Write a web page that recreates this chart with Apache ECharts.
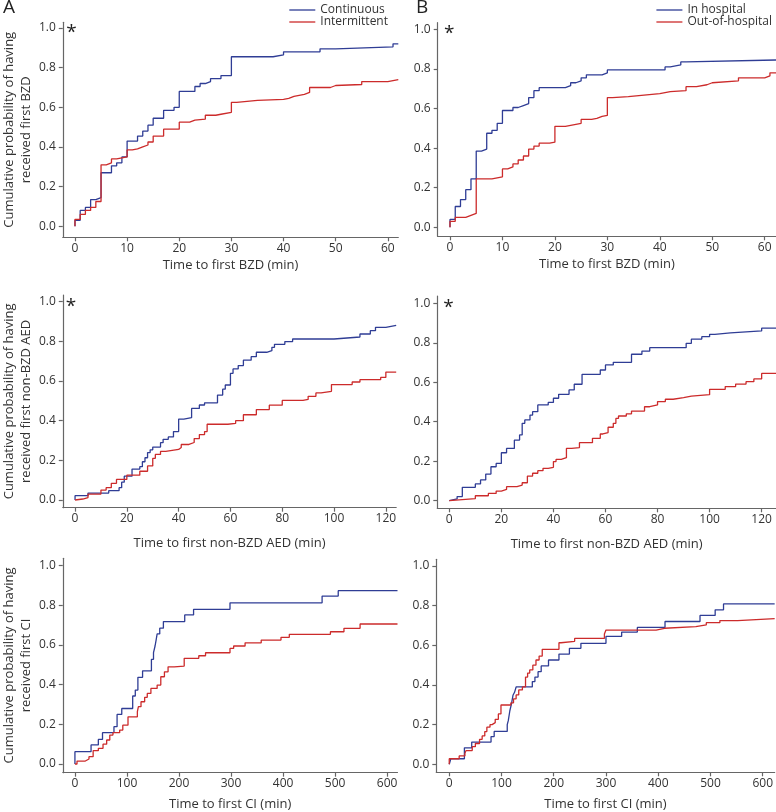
<!DOCTYPE html>
<html>
<head>
<meta charset="utf-8">
<script src="https://cdn.jsdelivr.net/npm/echarts@6/dist/echarts.min.js"></script>
<style>
html,body{margin:0;padding:0;background:#fff;}
#chart{width:776px;height:812px;}
</style>
</head>
<body>
<div id="chart"></div>
<script>
// ---------- DATA ----------
const legendA = ['Continuous', 'Intermittent'];
const legendB = ['In hospital', 'Out-of-hospital'];
const xTitles = ['Time to first BZD (min)', 'Time to first non-BZD AED (min)', 'Time to first CI (min)'];
const yTitles = ['Cumulative probability of having\nreceived first BZD',
                 'Cumulative probability of having\nreceived first non-BZD AED',
                 'Cumulative probability of having\nreceived first CI'];
const xTicksRow1 = [0, 10, 20, 30, 40, 50, 60];
const xTicksRow2 = [0, 20, 40, 60, 80, 100, 120];
const xTicksRow3 = [0, 100, 200, 300, 400, 500, 600];
const yTicks = [0, 0.2, 0.4, 0.6, 0.8, 1.0];

// Panel A, row 1 (BZD)
const a1ContT = [0,0,1,2,3,4,5,7,8,9,10,12,13,14,15,17,19,20,23,24,25,26,28,30,38,40,47,50,61];
const a1ContP = [0,0.03,0.08,0.095,0.135,0.145,0.27,0.305,0.32,0.35,0.43,0.455,0.48,0.51,0.545,0.585,0.60,0.68,0.705,0.72,0.73,0.745,0.76,0.855,0.865,0.88,0.895,0.905,0.92];
const a1IntT = [0,0,1,2,3,4,5,6,7,8,10,11,12,13,14,15,17,20,22,23,25,27,28,30,31,35,40,41,42,44,45,49,50,55,60];
const a1IntP = [0,0.035,0.06,0.08,0.095,0.125,0.31,0.32,0.34,0.35,0.385,0.39,0.40,0.41,0.425,0.455,0.49,0.525,0.535,0.54,0.56,0.565,0.575,0.625,0.635,0.64,0.645,0.655,0.665,0.675,0.70,0.71,0.715,0.73,0.74];
// Panel B, row 1 (BZD)
const b1InT = [0,0,1,2,3,4,5,6,7,8,9,10,12,13,14,15,16,17,22,23,24,25,26,29,30,41,42,44,45];
const b1InP = [0,0.04,0.105,0.14,0.19,0.245,0.385,0.395,0.475,0.49,0.525,0.59,0.605,0.615,0.625,0.655,0.69,0.705,0.715,0.73,0.74,0.755,0.77,0.78,0.795,0.81,0.82,0.835,0.845];
const b1OutT = [0,0,1,3,4,5,8,10,11,12,13,14,15,16,17,19,20,22,23,25,27,28,29,30,31,34,36,38,40,42,45,47,49,50,55,60,61];
const b1OutP = [0,0.03,0.05,0.06,0.07,0.245,0.255,0.295,0.305,0.32,0.34,0.36,0.395,0.41,0.425,0.43,0.51,0.515,0.525,0.545,0.55,0.56,0.565,0.655,0.66,0.665,0.67,0.675,0.685,0.69,0.71,0.72,0.73,0.74,0.755,0.765,0.78];
// Panel A, row 2 (non-BZD AED)
const a2ContT = [0,0,5,13,17,18,19,22,25,26,27,28,29,30,33,34,36,38,40,42,45,48,50,55,57,58,60,61,63,65,68,70,74,76,77,81,84,100,110,114,116,120];
const a2ContP = [0,0.022,0.035,0.047,0.062,0.09,0.12,0.156,0.168,0.193,0.213,0.239,0.253,0.267,0.289,0.306,0.318,0.345,0.408,0.415,0.462,0.479,0.49,0.529,0.559,0.58,0.639,0.661,0.678,0.705,0.723,0.745,0.753,0.77,0.785,0.799,0.812,0.822,0.837,0.854,0.871,0.881];
const a2IntT = [0,0,3,5,10,12,14,16,20,25,28,30,31,33,35,40,41,44,46,48,50,51,59,62,65,70,75,80,88,90,93,95,99,107,110,118,120];
const a2IntP = [0,0.005,0.012,0.03,0.05,0.062,0.084,0.104,0.125,0.145,0.172,0.21,0.23,0.245,0.255,0.265,0.28,0.29,0.31,0.33,0.345,0.382,0.386,0.4,0.43,0.456,0.478,0.502,0.507,0.523,0.54,0.548,0.582,0.595,0.607,0.618,0.645];
// Panel B, row 2 (non-BZD AED)
const b2InT = [0,0,3,5,10,12,14,16,18,20,22,25,27,28,29,31,32,34,38,40,42,46,48,51,58,60,63,70,74,77,91,93,97,100,102,108,120];
const b2InP = [0,0.009,0.021,0.068,0.085,0.105,0.135,0.172,0.189,0.243,0.265,0.307,0.333,0.392,0.409,0.434,0.451,0.485,0.498,0.519,0.539,0.561,0.59,0.64,0.662,0.688,0.701,0.742,0.758,0.775,0.797,0.819,0.831,0.843,0.85,0.86,0.874];
const b2OutT = [0,0,10,15,18,20,22,26,28,30,32,34,36,38,40,41,43,45,47,50,55,58,59,61,63,64,65,68,70,75,77,80,83,86,90,93,100,106,110,114,117,120];
const b2OutP = [0,0.01,0.025,0.037,0.049,0.057,0.071,0.079,0.091,0.125,0.139,0.152,0.164,0.169,0.198,0.209,0.218,0.265,0.269,0.294,0.316,0.338,0.345,0.372,0.392,0.417,0.429,0.44,0.454,0.476,0.485,0.502,0.514,0.522,0.53,0.537,0.564,0.578,0.591,0.603,0.617,0.645];
// Panel A, row 3 (CI)
const a3ContT = [0,0,31,45,53,75,81,90,111,116,121,130,147,151,154,156,158,163,170,211,228,298,475,506];
const a3ContP = [0,0.062,0.096,0.124,0.158,0.188,0.25,0.28,0.343,0.373,0.437,0.47,0.528,0.562,0.595,0.625,0.656,0.685,0.718,0.752,0.78,0.813,0.847,0.874];
const a3IntT = [0,4,20,27,35,45,54,61,67,73,86,92,102,120,122,127,134,139,146,158,165,172,179,191,210,238,251,298,305,327,358,396,412,491,517,548];
const a3IntP = [0,0.015,0.025,0.037,0.067,0.079,0.1,0.121,0.146,0.158,0.171,0.196,0.238,0.264,0.289,0.314,0.336,0.356,0.381,0.398,0.44,0.465,0.49,0.494,0.533,0.546,0.561,0.583,0.595,0.611,0.625,0.639,0.654,0.667,0.684,0.706];
// Panel B, row 3 (CI)
const b3InT = [0,3,29,43,80,86,111,113,116,119,122,125,128,159,164,170,176,190,210,230,252,300,330,360,413,480,509,525];
const b3InP = [0,0.028,0.083,0.112,0.14,0.166,0.2,0.22,0.27,0.304,0.348,0.363,0.39,0.417,0.44,0.467,0.496,0.526,0.556,0.585,0.61,0.645,0.667,0.69,0.72,0.751,0.779,0.809];
const b3OutT = [0,0,19,30,32,44,50,58,63,68,72,78,82,88,94,99,118,123,128,133,140,146,150,154,160,166,172,178,210,214,240,297,300,396,412,472,492,518,552];
const b3OutP = [0,0.028,0.042,0.055,0.069,0.089,0.105,0.126,0.143,0.165,0.187,0.2,0.21,0.227,0.254,0.299,0.31,0.33,0.35,0.375,0.39,0.44,0.46,0.476,0.5,0.526,0.546,0.58,0.613,0.62,0.635,0.657,0.677,0.686,0.694,0.703,0.714,0.725,0.735];

// ---------- LAYOUT (pixels) ----------
const BLUE = '#2f3d95', RED = '#cc2b2b', AXIS = '#666', TXT = '#333';
const FONT = '"Open Sans", "Noto Sans", sans-serif';
const panels = [
  {axX:60,   zeroX:72.3,  unit:5.257,  endX:398.3, y1:28,    y0:226.3, top:22.3,  bottom:237.3, ticks:xTicksRow1, row:0, side:'A', star:true,
   s:[[legendA[0], a1ContT, a1ContP, BLUE],[legendA[1], a1IntT, a1IntP, RED]]},
  {axX:437.7,zeroX:450,   unit:5.245,  endX:776,   y1:29.3,  y0:227.3, top:22.7,  bottom:236.3, ticks:xTicksRow1, row:0, side:'B', star:true,
   s:[[legendB[0], b1InT, b1InP, BLUE],[legendB[1], b1OutT, b1OutP, RED]]},
  {axX:59.3, zeroX:71.7,  unit:2.617,  endX:396.2, y1:301.7, y0:500,   top:295,   bottom:507.7, ticks:xTicksRow2, row:1, side:'A', star:true,
   s:[[legendA[0], a2ContT, a2ContP, BLUE],[legendA[1], a2IntT, a2IntP, RED]]},
  {axX:437.3,zeroX:449.3, unit:2.603,  endX:776,   y1:303.3, y0:500.7, top:296,   bottom:508.3, ticks:xTicksRow2, row:1, side:'B', star:true,
   s:[[legendB[0], b2InT, b2InP, BLUE],[legendB[1], b2OutT, b2OutP, RED]]},
  {axX:58.7, zeroX:71,    unit:0.5267, endX:397.5, y1:565.7, y0:764,   top:558.3, bottom:772.7, ticks:xTicksRow3, row:2, side:'A', star:false,
   s:[[legendA[0], a3ContT, a3ContP, BLUE],[legendA[1], a3IntT, a3IntP, RED]]},
  {axX:436.3,zeroX:449.3, unit:0.5245, endX:776,   y1:566,   y0:764.3, top:559.3, bottom:772.3, ticks:xTicksRow3, row:2, side:'B', star:false,
   s:[[legendB[0], b3InT, b3InP, BLUE],[legendB[1], b3OutT, b3OutP, RED]]}
];
const xNameGap = [21, 29, 25];

const grids = [], xAxes = [], yAxes = [], series = [], graphics = [];
panels.forEach((p, i) => {
  const pxPerY = p.y0 - p.y1;
  const xMin = -(p.zeroX - p.axX) / p.unit, xMax = (p.endX - p.zeroX) / p.unit;
  const yMin = -(p.bottom - p.y0) / pxPerY, yMax = (p.y0 - p.top) / pxPerY;
  grids.push({left: p.axX, top: p.top, width: p.endX - p.axX, height: p.bottom - p.top, containLabel: false});
  xAxes.push({
    type: 'value', gridIndex: i, min: xMin, max: xMax,
    axisLine: {show: true, onZero: false, lineStyle: {color: AXIS, width: 1.2}},
    axisTick: {show: true, length: 4, inside: false, customValues: p.ticks, lineStyle: {color: AXIS, width: 1.2}},
    axisLabel: {show: true, customValues: p.ticks, margin: 5, color: TXT, fontSize: 12, fontFamily: FONT},
    splitLine: {show: false},
    name: xTitles[p.row], nameLocation: 'middle', nameGap: xNameGap[p.row],
    nameTextStyle: {color: TXT, fontSize: 13, fontFamily: FONT}
  });
  const ya = {
    type: 'value', gridIndex: i, min: yMin, max: yMax,
    axisLine: {show: true, onZero: false, lineStyle: {color: AXIS, width: 1.2}},
    axisTick: {show: true, length: 4, customValues: yTicks, lineStyle: {color: AXIS, width: 1.2}},
    axisLabel: {show: true, customValues: yTicks, margin: 7, color: TXT, fontSize: 12, fontFamily: FONT,
                formatter: v => v.toFixed(1)},
    splitLine: {show: false}
  };
  if (p.side === 'A') {
    ya.name = yTitles[p.row];
    ya.nameLocation = 'middle';
    ya.nameGap = 25;
    ya.nameTextStyle = {color: TXT, fontSize: 13, fontFamily: FONT, lineHeight: 17};
  }
  yAxes.push(ya);
  p.s.forEach(([name, ts, ps, color]) => {
    const data = ts.map((t, k) => [t, ps[k]]);
    data.push([xMax, ps[ps.length - 1]]);
    series.push({
      type: 'line', name: name, xAxisIndex: i, yAxisIndex: i, data: data,
      step: 'end', symbol: 'none', showSymbol: false, clip: true,
      lineStyle: {color: color, width: 1.3}, itemStyle: {color: color},
      emphasis: {disabled: true}, silent: true
    });
  });
  if (p.star) {
    graphics.push({type: 'text', left: p.zeroX - 6, top: p.y1 - 5,
      style: {text: '*', fontSize: 19, fontFamily: FONT, fill: '#222'}});
  }
});
graphics.push({type: 'text', left: 3, top: -2, style: {text: 'A', fontSize: 19, fontFamily: FONT, fill: '#222'}});
graphics.push({type: 'text', left: 416, top: -2, style: {text: 'B', fontSize: 19, fontFamily: FONT, fill: '#222'}});

const legendCommon = {
  orient: 'vertical', itemWidth: 26, itemHeight: 14, itemGap: 0, selectedMode: false,
  padding: 0, align: 'left',
  textStyle: {color: TXT, fontSize: 12, fontFamily: FONT},
  icon: 'path://M0,0 L26,0 L26,1.3 L0,1.3 Z'
};
const legends = [
  Object.assign({}, legendCommon, {right: 388, top: 4,
    data: [{name: legendA[0], itemStyle: {color: BLUE}}, {name: legendA[1], itemStyle: {color: RED}}]}),
  Object.assign({}, legendCommon, {right: 4, top: 4,
    data: [{name: legendB[0], itemStyle: {color: BLUE}}, {name: legendB[1], itemStyle: {color: RED}}]})
];

const chart = echarts.init(document.getElementById('chart'), null, {renderer: 'canvas'});
chart.setOption({
  animation: false,
  backgroundColor: '#fff',
  textStyle: {fontFamily: FONT},
  grid: grids, xAxis: xAxes, yAxis: yAxes, series: series,
  legend: legends, graphic: graphics, tooltip: {show: false}
});
</script>
</body>
</html>
